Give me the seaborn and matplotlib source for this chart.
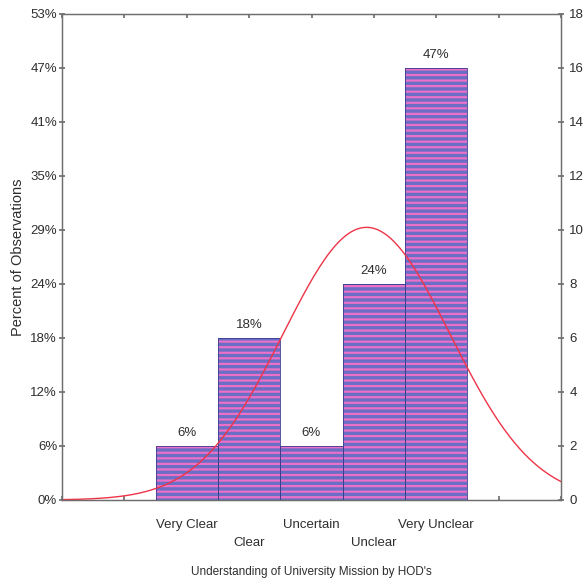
import numpy as np
import pandas as pd
import matplotlib
matplotlib.use("Agg")
import matplotlib.pyplot as plt
import seaborn as sns

# Responses on a 1..5 scale, one bar per category
categories = ["Very Clear", "Clear", "Uncertain", "Unclear", "Very Unclear"]
scale_values = [1, 2, 3, 4, 5]
counts = [2, 6, 2, 8, 16]

# Axis ticks (counts on the right, share of observations on the left)
count_ticks = [0, 2, 4, 6, 8, 10, 12, 14, 16, 18]
pct_tick_labels = ["0%", "6%", "12%", "18%", "24%", "29%", "35%", "41%", "47%", "53%"]

n_total = sum(counts)
positions = [v + 1 for v in scale_values]   # bars centred at 2..6 on a 0..8 axis

sns.set_theme(style="white")
plt.rcParams["font.family"] = ["Liberation Sans", "DejaVu Sans"]
plt.rcParams["hatch.linewidth"] = 1.6

fig = plt.figure(figsize=(5.84, 5.84), dpi=100)
ax = fig.add_axes([62 / 584, 84 / 584, (561 - 62) / 584, (500 - 14) / 584])

df = pd.DataFrame({"pos": positions, "count": counts, "cat": categories})

face = "#6a6ec4"
stripe = "#ea70c8"
edge = "#3a3c8c"
txt = "#2e2e2e"

# Filled, striped bars
sns.barplot(data=df, x="pos", y="count", native_scale=True, width=1.0,
            color=face, saturation=1, ax=ax, zorder=2)
for p in ax.patches:
    p.set_facecolor(face)
    p.set_edgecolor(stripe)
    p.set_hatch("---")
    p.set_linewidth(0)

# Thin dark outlines on top
sns.barplot(data=df, x="pos", y="count", native_scale=True, width=1.0,
            fill=False, color=edge, linewidth=0.6, ax=ax, zorder=3)
for p in ax.patches[len(counts):]:
    p.set_edgecolor(edge)

# Fitted normal curve, scaled to counts
vals = np.repeat(positions, counts).astype(float)
mu = vals.mean()
sd = vals.std(ddof=1)
xs = np.linspace(0, 8, 300)
ys = n_total * np.exp(-0.5 * ((xs - mu) / sd) ** 2) / (sd * np.sqrt(2 * np.pi))
sns.lineplot(x=xs, y=ys, color="#ee3448", linewidth=1.0, ax=ax, zorder=4)

# Percentage labels above bars
for pos, c in zip(positions, counts):
    ax.text(pos, c + 0.25, f"{round(100 * c / n_total)}%", ha="center", va="bottom",
            fontsize=9.5, color=txt, zorder=5)

ax.set_xlim(0, 8)
ax.set_ylim(0, 18)

# X ticks: small inward marks at every unit, category names under bars
ax.set_xticks(range(0, 9))
ax.set_xticklabels([""] * 9)
ax.tick_params(axis="x", which="major", direction="in", length=3, color="#707070",
               bottom=True, top=True)
label_ax = ax.secondary_xaxis("bottom")
label_ax.set_xticks(positions)
label_ax.set_xticklabels([c if i % 2 == 0 else "\n" + c for i, c in enumerate(categories)],
                         fontsize=9.5, color=txt, linespacing=1.65)
label_ax.tick_params(length=0, pad=14)
label_ax.spines["bottom"].set_visible(False)

ax.set_yticks(count_ticks)
ax.set_yticklabels(pct_tick_labels, fontsize=9.5, color=txt)
ax.tick_params(axis="y", which="major", direction="inout", length=4, color="#707070",
               left=True, pad=1.5)
ax.set_ylabel("Percent of Observations", fontsize=10.5, color=txt, labelpad=4)
ax.set_xlabel("Understanding of University Mission by HOD's", fontsize=8.5,
              color=txt, labelpad=44)

ax2 = ax.twinx()
ax2.set_ylim(0, 18)
ax2.set_yticks(count_ticks)
ax2.set_yticklabels([str(t) for t in count_ticks], fontsize=9.5, color=txt)
ax2.tick_params(axis="y", direction="inout", length=4, color="#707070", pad=4)

for a in (ax, ax2):
    for s in a.spines.values():
        s.set_color("#6e6e6e")
        s.set_linewidth(0.9)

ax.grid(False)
fig.savefig("out.png", dpi=100, facecolor="white")
